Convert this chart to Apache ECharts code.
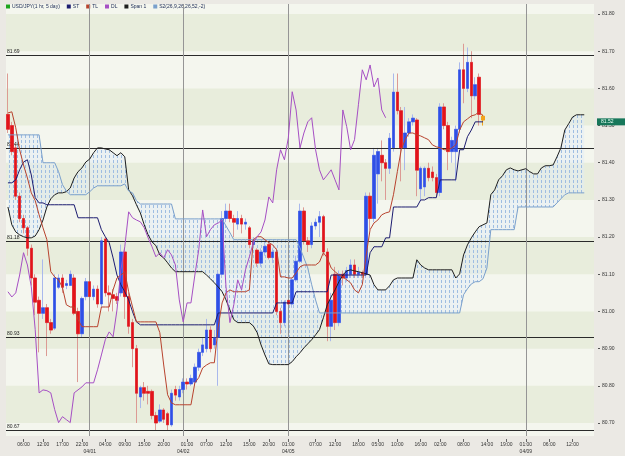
<!DOCTYPE html>
<html><head><meta charset="utf-8">
<style>html,body{margin:0;padding:0;background:#ebe9e4;}#c{width:625px;height:456px;}</style>
<script src="https://cdn.jsdelivr.net/npm/echarts@6/dist/echarts.min.js"></script>
</head><body><div id="c"></div>
<script>
const N = 151;
const tickIdx = [4, 9, 14, 19, 25, 30, 35, 40, 46, 51, 56, 62, 67, 72, 79, 84, 90, 95, 100, 106, 111, 117, 123, 128, 133, 139, 145];
const tickLabels = ["06:00","12:00","17:00","22:00","04:00","09:00","15:00","20:00","01:00","07:00","12:00","15:00","20:00","01:00","07:00","12:00","18:00","05:00","10:00","16:00","02:00","08:00","14:00","19:00","01:00","06:00","12:00"];
const dateIdx = [21, 45, 72, 133];
const dateLabels = ["04/01", "04/02", "04/05", "04/09"];
const yTicks = [80.7, 80.8, 80.9, 81.0, 81.1, 81.2, 81.3, 81.4, 81.5, 81.6, 81.7, 81.8];
const bandLows = [80.7, 80.9, 81.1, 81.3, 81.5, 81.7];
const levels = [81.695, 81.44, 81.185, 80.93, 80.68];
const levelLabels = ["81.69", "81.44", "81.18", "80.93", "80.67"];
const lastPos = 81.507, lastText = "81.52";

const opens = [81.53,81.50,81.44,81.31,81.25,81.225,81.17,81.09,81.03,80.995,
81.01,80.97,80.955,81.065,81.09,81.07,81.07,81.09,81.00,80.94,
81.04,81.08,81.04,81.06,81.02,81.195,81.05,81.045,81.04,81.05,
81.16,81.04,80.97,80.90,80.77,80.795,80.785,80.785,80.72,80.705,
80.735,80.725,80.695,80.79,80.77,80.79,80.81,80.805,80.81,80.85,
80.89,80.90,80.95,80.91,80.93,81.10,81.25,81.27,81.25,81.235,
81.25,81.235,81.225,81.18,81.165,81.13,81.16,81.18,81.145,81.16,
81.00,80.97,81.03,81.02,81.085,81.135,81.27,81.19,81.18,81.23,
81.24,81.255,81.16,80.96,81.10,80.97,81.10,81.09,81.10,81.125,
81.10,81.105,81.10,81.31,81.25,81.37,81.42,81.40,81.385,81.44,
81.59,81.54,81.44,81.48,81.51,81.515,81.33,81.335,81.385,81.375,
81.36,81.32,81.55,81.50,81.43,81.43,81.49,81.65,81.60,81.67,
81.58,81.63,81.525];
const closes = [81.49,81.43,81.31,81.25,81.225,81.17,81.09,81.025,80.995,81.01,
80.97,80.95,81.09,81.09,81.065,81.075,81.10,80.995,80.94,81.035,
81.08,81.04,81.06,81.02,81.19,81.05,81.045,81.035,81.03,81.16,
81.04,80.96,80.90,80.78,80.795,80.78,80.78,80.72,80.70,80.735,
80.71,80.695,80.78,80.775,80.79,80.81,80.805,80.82,80.85,80.89,
80.91,80.95,80.90,80.93,81.10,81.25,81.27,81.25,81.24,81.25,
81.235,81.24,81.18,81.19,81.13,81.16,81.175,81.145,81.16,81.00,
80.97,81.025,81.02,81.085,81.135,81.27,81.19,81.18,81.23,81.24,
81.255,81.16,80.96,81.03,80.97,81.10,81.09,81.11,81.125,81.10,
81.105,81.10,81.31,81.25,81.42,81.43,81.40,81.385,81.466,81.59,
81.54,81.44,81.48,81.51,81.52,81.38,81.385,81.385,81.36,81.36,
81.32,81.55,81.50,81.43,81.46,81.49,81.65,81.60,81.67,81.58,
81.61,81.53,81.515];
const lows = [81.48,81.42,81.30,81.24,81.21,81.15,81.07,80.99,80.89,80.98,
80.88,80.94,80.95,81.06,81.05,81.06,81.07,80.99,80.81,80.93,
81.03,81.03,81.03,81.01,81.01,81.04,81.00,81.00,81.02,81.04,
80.98,80.94,80.85,80.70,80.74,80.76,80.75,80.71,80.68,80.70,
80.70,80.68,80.69,80.76,80.76,80.78,80.79,80.80,80.80,80.84,
80.88,80.89,80.89,80.90,80.80,81.09,81.24,81.24,81.20,81.22,
81.21,81.22,81.17,81.17,81.12,81.12,81.15,81.14,81.13,80.99,
80.94,80.96,81.01,81.01,81.08,81.13,81.18,81.16,81.17,81.22,
81.20,81.15,80.92,80.92,80.95,80.96,81.07,81.08,81.09,81.09,
81.09,81.09,81.09,81.22,81.24,81.29,81.35,81.30,81.37,81.43,
81.53,81.35,81.38,81.47,81.50,81.31,81.30,81.31,81.35,81.35,
81.31,81.31,81.49,81.38,81.40,81.35,81.48,81.56,81.59,81.52,
81.57,81.50,81.50];
const highs = [81.64,81.51,81.45,81.32,81.26,81.23,81.18,81.10,81.04,81.14,
81.02,80.98,81.10,81.10,81.10,81.085,81.11,81.10,81.01,81.04,
81.09,81.09,81.07,81.07,81.20,81.20,81.07,81.06,81.05,81.18,
81.17,81.05,80.98,80.91,80.80,80.81,80.80,80.79,80.73,80.75,
80.74,80.73,80.79,80.80,80.80,80.82,80.82,80.83,80.86,80.90,
80.93,80.98,80.96,80.95,81.11,81.27,81.29,81.29,81.26,81.27,
81.26,81.25,81.23,81.20,81.17,81.17,81.19,81.19,81.17,81.17,
81.01,81.03,81.04,81.09,81.15,81.29,81.28,81.20,81.24,81.25,
81.27,81.26,81.17,81.05,81.12,81.11,81.11,81.12,81.14,81.14,
81.12,81.11,81.32,81.32,81.44,81.44,81.46,81.41,81.48,81.64,
81.64,81.55,81.55,81.52,81.53,81.52,81.39,81.39,81.40,81.39,
81.37,81.56,81.56,81.51,81.47,81.50,81.67,81.72,81.71,81.70,
81.63,81.64,81.53];

const tl = [81.534,81.537,81.494,81.435,81.394,81.359,81.319,81.298,81.260,81.225,
81.193,81.107,81.093,81.085,81.064,81.018,81.012,81.012,80.978,80.959,
80.959,80.959,80.959,80.959,81.012,81.012,81.012,81.058,81.090,81.098,
81.107,81.053,81.012,80.972,80.972,80.972,80.972,80.972,80.972,80.943,
80.856,80.776,80.754,80.749,80.749,80.749,80.749,80.749,80.808,80.822,
80.848,80.856,80.862,80.862,80.959,81.023,81.050,81.058,81.053,81.053,
81.053,81.053,81.058,81.193,81.201,81.201,81.193,81.185,81.179,81.166,
81.093,81.093,81.090,81.090,81.104,81.120,81.125,81.125,81.125,81.125,
81.133,81.158,81.144,81.117,81.107,81.098,81.093,81.085,81.077,81.058,
81.050,81.072,81.152,81.220,81.238,81.246,81.260,81.265,81.268,81.314,
81.376,81.435,81.462,81.480,81.480,81.475,81.472,81.467,81.462,81.448,
81.443,81.440,81.435,81.435,81.440,81.448,81.488,81.510,81.518,81.526,
81.529,81.537,81.526];
const st = [81.346,81.346,81.354,81.381,81.402,81.408,81.367,81.306,81.292,81.292,
81.287,81.287,81.287,81.287,81.287,81.287,81.287,81.287,81.252,81.252,
81.252,81.252,81.252,81.252,81.220,81.201,81.185,81.144,81.098,81.072,
81.053,81.031,80.999,80.972,80.964,80.964,80.964,80.964,80.964,80.964,
80.964,80.964,80.964,80.964,80.964,80.964,80.964,80.964,80.964,80.964,
80.964,80.964,80.964,80.964,80.996,80.996,80.996,80.996,80.996,80.996,
80.996,80.996,80.996,80.996,80.996,80.996,80.996,80.996,80.996,81.023,
81.023,81.023,81.023,81.023,81.053,81.053,81.053,81.053,81.053,81.053,
81.053,81.053,81.053,81.098,81.098,81.098,81.098,81.098,81.098,81.098,
81.098,81.098,81.098,81.158,81.174,81.174,81.174,81.198,81.198,81.281,
81.281,81.281,81.281,81.281,81.281,81.281,81.300,81.300,81.306,81.306,
81.306,81.354,81.354,81.354,81.354,81.354,81.435,81.435,81.470,81.488,
81.510,81.510,81.510];
const dl = [81.053,81.039,81.050,81.098,81.158,81.125,81.066,80.951,80.781,80.789,
80.787,80.781,80.736,80.701,80.717,80.709,80.701,80.781,80.789,80.797,
80.808,80.808,80.808,80.843,80.883,80.924,80.945,80.932,81.004,81.112,
81.174,81.268,81.252,81.246,81.241,81.225,81.198,81.174,81.147,81.158,
81.144,81.166,81.152,81.125,81.031,80.972,81.023,81.023,81.098,81.166,
81.273,81.201,81.220,81.233,81.238,81.246,81.066,80.970,81.018,81.085,
81.058,81.112,81.147,81.185,81.201,81.214,81.246,81.308,81.292,81.381,
81.435,81.408,81.467,81.591,81.542,81.440,81.480,81.510,81.521,81.435,
81.381,81.354,81.367,81.381,81.354,81.327,81.542,81.497,81.435,81.462,
81.556,81.650,81.623,81.663,81.604,81.628,81.542,81.521];
const span1 = [81.281,81.233,81.214,81.206,81.201,81.198,81.198,81.203,81.220,81.246,
81.281,81.303,81.314,81.319,81.319,81.322,81.332,81.359,81.376,81.386,
81.402,81.410,81.427,81.440,81.440,81.437,81.435,81.427,81.419,81.427,
81.416,81.327,81.311,81.287,81.265,81.233,81.206,81.187,81.177,81.152,
81.144,81.131,81.117,81.107,81.107,81.107,81.107,81.107,81.107,81.107,
81.107,81.098,81.088,81.077,81.066,81.053,81.031,81.004,80.978,80.970,
80.970,80.970,80.970,80.961,80.943,80.910,80.883,80.859,80.857,80.857,
80.857,80.857,80.857,80.865,80.878,80.889,80.902,80.913,80.924,80.937,
80.951,80.983,81.018,81.039,81.058,81.080,81.098,81.109,81.112,81.109,
81.107,81.104,81.101,81.098,81.072,81.058,81.058,81.058,81.069,81.085,
81.090,81.090,81.090,81.090,81.090,81.139,81.125,81.117,81.112,81.112,
81.112,81.112,81.112,81.112,81.112,81.090,81.101,81.152,81.179,81.198,
81.214,81.228,81.233,81.238,81.314,81.327,81.354,81.365,81.381,81.386,
81.381,81.378,81.381,81.384,81.376,81.370,81.370,81.386,81.392,81.392,
81.394,81.416,81.440,81.488,81.505,81.523,81.529,81.529,81.529];
const span2 = [81.475,81.475,81.475,81.475,81.475,81.475,81.475,81.475,81.475,81.400,
81.400,81.400,81.400,81.376,81.341,81.324,81.314,81.314,81.314,81.314,
81.314,81.322,81.332,81.338,81.338,81.338,81.338,81.338,81.338,81.338,
81.343,81.324,81.319,81.298,81.289,81.289,81.289,81.289,81.289,81.289,
81.289,81.289,81.289,81.249,81.249,81.249,81.249,81.249,81.249,81.249,
81.249,81.249,81.249,81.249,81.249,81.249,81.230,81.212,81.193,81.193,
81.193,81.193,81.193,81.193,81.193,81.193,81.193,81.193,81.193,81.193,
81.193,81.193,81.193,81.193,81.193,81.171,81.144,81.117,81.072,81.031,
80.996,80.996,80.996,80.996,80.996,80.996,80.996,80.996,80.996,80.996,
80.996,80.996,80.996,80.996,80.996,80.996,80.996,80.996,80.996,80.996,
80.996,80.996,80.996,80.996,80.996,80.996,80.996,80.996,80.996,80.996,
80.996,80.996,80.996,80.996,80.996,80.996,80.996,81.045,81.061,81.074,
81.080,81.080,81.088,81.117,81.220,81.220,81.220,81.220,81.220,81.220,
81.220,81.281,81.281,81.281,81.281,81.281,81.281,81.281,81.281,81.281,
81.281,81.292,81.303,81.314,81.319,81.319,81.319,81.319,81.319];

const cats = Array.from({length: N}, (_, i) => 'c' + i);
const tickSet = new Set(tickIdx), dateSet = new Set(dateIdx);

const pc = document.createElement('canvas'); pc.width = 4; pc.height = 5;
const g = pc.getContext('2d');
g.fillStyle = 'rgba(225,236,246,0.45)'; g.fillRect(0, 0, 4, 5);
g.fillStyle = '#9ebde2'; g.fillRect(1, 0, 1, 3);
const hatch = {image: pc, repeat: 'repeat'};

const last = opens.length - 1;
const orange = '#f2a31b';
const wickData = opens.map((o, i) => {
  const d = {value: [o, closes[i], lows[i], highs[i]]};
  if (i === last) d.itemStyle = {color: orange, color0: orange, borderColor: orange, borderColor0: orange};
  return d;
});
const bodyData = opens.map((o, i) => {
  const lo = Math.min(o, closes[i]), hi = Math.max(o, closes[i]);
  const d = {value: [o, closes[i], lo, hi]};
  if (i === last) d.itemStyle = {color: orange, color0: orange, borderColor: orange, borderColor0: orange};
  return d;
});

const chart = echarts.init(document.getElementById('c'), null, {renderer: 'canvas'});
const lineS = (name, data, color, z) => ({
  name, type: 'line', data, symbol: 'none', silent: true, z,
  lineStyle: {color, width: 1}, itemStyle: {color}
});
chart.setOption({
  animation: false,
  backgroundColor: '#ebe9e4',
  legend: {
    left: 6, top: 4, padding: 0, icon: 'rect', itemWidth: 4, itemHeight: 4, itemGap: 7,
    textStyle: {fontSize: 5, color: '#1c2a55', fontFamily: 'Liberation Sans', padding: [0, 0, 0, -3]},
    data: [{name: 'USD/JPY(1 hr, 5 day)', itemStyle: {color: '#1ea51e', borderColor: '#1ea51e', borderWidth: 0}}, 'ST', 'TL', 'DL', 'Span 1', 'S2(26,9,26,26,52,-2)'],
    selectedMode: false
  },
  grid: {left: 6, right: 31, top: 4, bottom: 20, show: true, backgroundColor: '#f4f6ee', borderWidth: 0},
  xAxis: [{
    type: 'category', data: cats, boundaryGap: true, position: 'bottom', offset: 3,
    axisLine: {show: false},
    axisTick: {show: true, alignWithLabel: true, length: 3, interval: (i) => tickSet.has(i), lineStyle: {color: '#666'}},
    axisLabel: {interval: (i) => tickSet.has(i), formatter: (v, i) => tickLabels[tickIdx.indexOf(i)] || '', fontSize: 5, color: '#333', margin: 3, fontFamily: 'Liberation Sans'},
    splitLine: {show: false}
  }, {
    type: 'category', data: cats, boundaryGap: true, position: 'bottom', offset: 11,
    axisLine: {show: false}, axisTick: {show: false},
    axisLabel: {interval: (i) => dateSet.has(i), formatter: (v, i) => dateLabels[dateIdx.indexOf(i)] || '', fontSize: 5, color: '#333', margin: 2, fontFamily: 'Liberation Sans'},
    splitLine: {show: false}
  }],
  yAxis: {
    type: 'value', position: 'right', min: 80.665, max: 81.827, offset: 4, scale: true,
    splitLine: {show: false}, axisLine: {show: false},
    axisTick: {show: true, length: 2, customValues: yTicks, lineStyle: {color: '#555'}},
    axisLabel: {customValues: yTicks, formatter: (v) => v.toFixed(2), fontSize: 5, color: '#333', margin: 4, fontFamily: 'Liberation Sans'}
  },
  series: [
    {
      type: 'line', data: [], z: 1, silent: true,
      markArea: {silent: true, itemStyle: {color: '#e8eddc'}, data: bandLows.map(v => [{yAxis: v}, {yAxis: v + 0.1}])}
    },
    {
      type: 'custom', z: 2, silent: true, data: [0],
      renderItem: (params, api) => {
        const pts = [];
        for (let i = 0; i < span1.length; i++) pts.push(api.coord([i, span1[i]]));
        for (let i = span2.length - 1; i >= 0; i--) pts.push(api.coord([i, span2[i]]));
        return {type: 'polygon', shape: {points: pts}, style: {fill: hatch, stroke: null}};
      }
    },
    {
      type: 'line', data: [], z: 3, silent: true,
      markLine: {
        symbol: 'none', silent: true,
        data: levels.map((v, k) => ({
          yAxis: v, lineStyle: {color: '#2a2a2a', width: 1, type: 'solid'},
          label: {show: true, position: 'insideStartTop', formatter: levelLabels[k], fontSize: 5, color: '#222', distance: 1, fontFamily: 'Liberation Sans'}
        })).concat(dateIdx.map(i => ({
          xAxis: i, lineStyle: {color: '#959595', width: 1, type: 'solid'}, label: {show: false}
        })))
      }
    },
    lineS('Span 1', span1, '#1e1e1e', 6),
    lineS('S2(26,9,26,26,52,-2)', span2, '#7aa0cc', 6),
    {
      name: 'USD/JPY(1 hr, 5 day)', type: 'candlestick', data: wickData, barWidth: 3, z: 4, silent: true,
      itemStyle: {color: '#a9b8ec', color0: '#dc9a94', borderColor: '#a9b8ec', borderColor0: '#dc9a94', borderWidth: 1}
    },
    {
      name: 'bodies', type: 'candlestick', data: bodyData, barWidth: 3, z: 5, silent: true,
      itemStyle: {color: '#2f4fe6', color0: '#e3131b', borderColor: '#2f4fe6', borderColor0: '#e3131b', borderWidth: 0.5},
      markLine: {
        symbol: 'none', silent: true,
        data: [{yAxis: lastPos}],
        lineStyle: {color: 'rgba(0,0,0,0)', width: 0},
        label: {show: true, position: 'end', distance: 3, formatter: lastText, fontSize: 5, color: '#e8fff4',
          backgroundColor: '#17775a', padding: [1, 13, 1, 4], fontFamily: 'Liberation Sans'}
      }
    },
    lineS('ST', st, '#1c1c70', 7),
    lineS('TL', tl, '#b8432e', 7),
    lineS('DL', dl, '#a64fc4', 7)
  ]
});
</script>
</body></html>
